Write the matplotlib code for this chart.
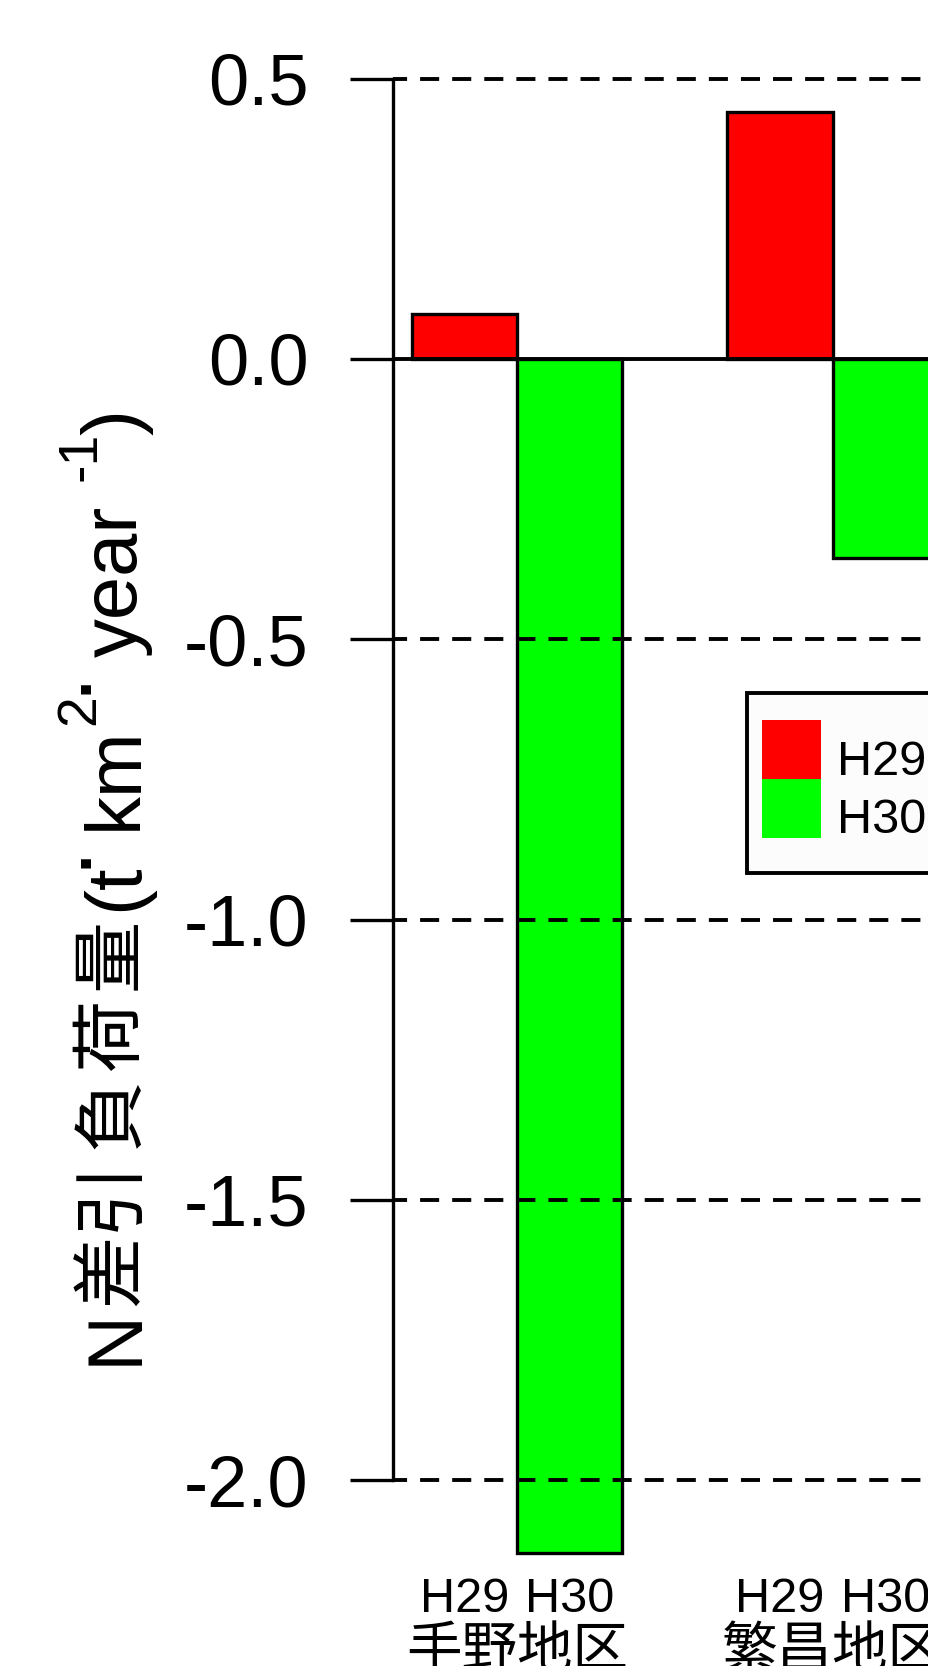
import matplotlib
matplotlib.use("Agg")
import matplotlib.pyplot as plt
from matplotlib.patches import Rectangle
import matplotlib.transforms as mtransforms

# ---- data ----
categories = ['手野地区', '繁昌地区']
series_names = ['H29', 'H30']
h29_values = [0.08, 0.44]
h30_values = [-2.13, -0.355]
series_colors = ['#FF0000', '#00FF00']
y_ticks = [0.5, 0.0, -0.5, -1.0, -1.5, -2.0]
# y label pieces: N差引負荷量(t·km^2·year^-1)
label_lead = 'N'
label_kanji = ['差', '引', '負', '荷', '量']
label_unit = ['(t', '·', 'km', '2', '·', 'year', '-1', ')']

LATIN = ['Liberation Sans', 'DejaVu Sans']
CJK = ['Noto Sans CJK JP', 'DejaVu Sans']
plt.rcParams['font.family'] = ['Liberation Sans', 'Noto Sans CJK JP', 'DejaVu Sans']

W, H = 929, 1666
fig = plt.figure(figsize=(W / 100, H / 100), dpi=100)

def fx(x):
    return x / W

def fy(y):
    return 1 - y / H

# axes: left edge at 393px, plot region 49..1613 px vertically; extends past right edge
ax_right_px = 1400
ax = fig.add_axes([fx(393), fy(1613), (ax_right_px - 393) / W, (1613 - 49) / H])
unit_px = 105.2
x0 = 0.822
ax.set_xlim(x0, x0 + (ax_right_px - 393) / unit_px)
ax.set_ylim(-2.237, 0.553)

# bar positions (R barplot beside=TRUE style)
n = len(categories)
x_h29 = [1 + 3 * g for g in range(n)]
x_h30 = [2 + 3 * g for g in range(n)]
ax.bar(x_h29, h29_values, width=1, align='edge', color=series_colors[0],
       edgecolor='black', linewidth=2.4, zorder=2)
ax.bar(x_h30, h30_values, width=1, align='edge', color=series_colors[1],
       edgecolor='black', linewidth=2.4, zorder=2)

# gridlines (drawn over bars)
for v in y_ticks:
    if v == 0:
        ax.axhline(v, color='black', linewidth=2.8, zorder=3)
    else:
        ax.axhline(v, color='black', linewidth=2.8, linestyle=(1.28, (4.9, 3.35)), zorder=3)

# spines / ticks
for s in ['top', 'right', 'bottom']:
    ax.spines[s].set_visible(False)
ax.spines['left'].set_linewidth(2.4)
ax.spines['left'].set_bounds(min(y_ticks), max(y_ticks))
ax.set_xticks([])
ax.set_yticks(y_ticks)
ax.set_yticklabels(['%.1f' % t for t in y_ticks], fontsize=52, family=LATIN)
ax.tick_params(axis='y', direction='out', length=31, width=2.4, pad=30)

# x labels
blend = mtransforms.blended_transform_factory(ax.transData, fig.transFigure)
for g in range(n):
    ax.text(x_h29[g] + 0.5, fy(1612), series_names[0], transform=blend,
            ha='center', va='baseline', fontsize=35, clip_on=False, family=LATIN)
    ax.text(x_h30[g] + 0.5, fy(1612), series_names[1], transform=blend,
            ha='center', va='baseline', fontsize=35, clip_on=False, family=LATIN)
    ax.text(x_h30[g], fy(1667), categories[g], transform=blend,
            ha='center', va='baseline', fontsize=40, clip_on=False, family=CJK)

# y label, assembled piece by piece (rotated 90 degrees)
def vtext(s, x_px, y_px, size, family, ha='left', va='baseline'):
    fig.text(fx(x_px), fy(y_px), s, rotation=90, rotation_mode='anchor',
             ha=ha, va=va, fontsize=size, family=family)

base_x = 137
sup_x = 94
vtext(label_lead, base_x, 1365, 56, LATIN)
for ch, yc in zip(label_kanji, [1270, 1195, 1113, 1034, 954]):
    vtext(ch, 132, yc, 52, CJK, ha='center')
unit_pos = [(911, base_x, 56, 'left'),
            (852, 101, 70, 'center'),
            (830, base_x, 56, 'left'),
            (725, sup_x, 40, 'left'),
            (678, 101, 70, 'center'),
            (657, base_x, 56, 'left'),
            (481, sup_x + 2, 40, 'left'),
            (435, base_x, 56, 'left')]
for s, (yp, xp, sz, ha) in zip(label_unit, unit_pos):
    vtext(s, xp, yp, sz, LATIN, ha=ha)

# legend (R-style box)
frame = Rectangle((fx(747), fy(873)), (1200 - 747) / W, (873 - 693) / H,
                  transform=fig.transFigure, facecolor='#FCFCFC',
                  edgecolor='black', linewidth=2.8, zorder=5)
fig.add_artist(frame)
key_tops = [720, 779]
baselines = [775, 833]
for i, name in enumerate(series_names):
    fig.add_artist(Rectangle((fx(762), fy(key_tops[i] + 59)), 59 / W, 59 / H,
                             transform=fig.transFigure, facecolor=series_colors[i],
                             edgecolor='none', zorder=6))
    fig.text(fx(837), fy(baselines[i]), name, ha='left', va='baseline',
             fontsize=35, zorder=7, family=LATIN)

fig.savefig('out.png', dpi=100)
